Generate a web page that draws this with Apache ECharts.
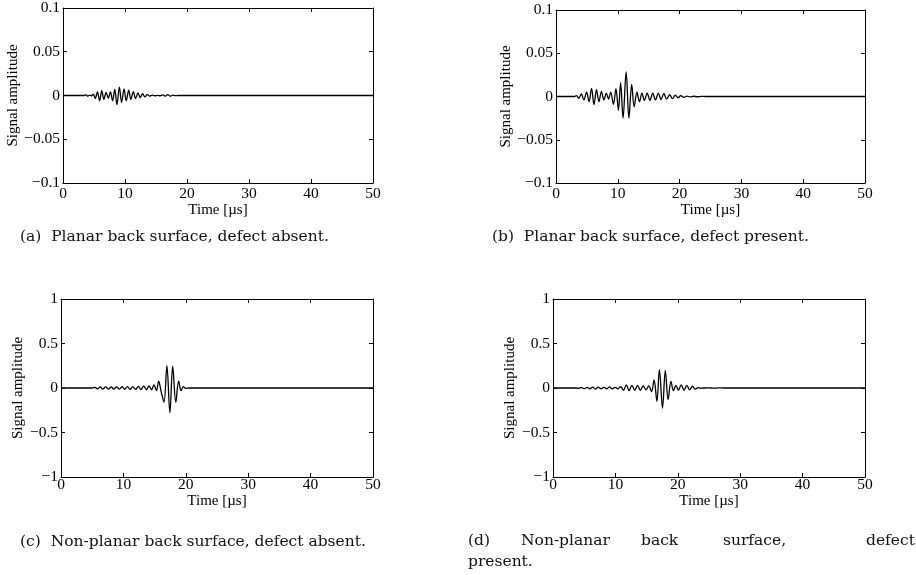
<!DOCTYPE html>
<html>
<head>
<meta charset="utf-8">
<script src="https://cdn.jsdelivr.net/npm/echarts@6/dist/echarts.min.js"></script>
<style>
  html, body { margin: 0; padding: 0; background: #fff; }
  #chart { width: 916px; height: 575px; }
</style>
</head>
<body>
<div id="chart"></div>
<script>
// time axis ticks (µs)
var timeTicks = [0, 10, 20, 30, 40, 50]
var ampTicksSmall = [-0.1, -0.05, 0, 0.05, 0.1]
var ampTicksLarge = [-1, -0.5, 0, 0.5, 1]

// signals as [time µs, amplitude] at peaks / troughs
var signalA = [
  [0, 0], [3.4, 0], [3.7, 0.0008], [4.0, -0.0008], [4.3, 0.0005], [4.6, -0.0003],
  [4.9, 0.0015], [5.2, -0.0035], [5.55, 0.004], [5.9, -0.006], [6.25, 0.0055],
  [6.6, -0.0045], [6.95, 0.0035], [7.3, -0.003], [7.65, 0.004], [8.0, -0.006],
  [8.35, 0.007], [8.7, -0.0105], [9.1, 0.0095], [9.45, -0.008], [9.85, 0.0075],
  [10.2, -0.006], [10.6, 0.006], [10.95, -0.0045], [11.35, 0.0045], [11.7, -0.0035],
  [12.1, 0.003], [12.45, -0.0025], [12.85, 0.002], [13.2, -0.0015], [13.6, 0.001],
  [14.0, -0.0008], [14.4, 0.0005], [14.8, -0.0003], [15.3, 0.0002], [15.7, -0.0003],
  [16.1, 0.0008], [16.5, -0.0008], [16.9, 0.001], [17.3, -0.0008], [17.7, 0.0004],
  [18.1, -0.0002], [18.6, 0], [50, 0]
]
var signalB = [
  [0, 0], [3.0, 0], [3.3, 0.001], [3.7, -0.002], [4.1, 0.003], [4.5, -0.004],
  [4.95, 0.005], [5.35, -0.006], [5.75, 0.0095], [6.15, -0.0095], [6.55, 0.008],
  [6.95, -0.006], [7.35, 0.006], [7.75, -0.004], [8.15, 0.004], [8.5, -0.003],
  [8.85, 0.005], [9.3, -0.009], [9.7, 0.009], [10.1, -0.016], [10.45, 0.016],
  [10.85, -0.025], [11.35, 0.0285], [11.8, -0.025], [12.25, 0.014], [12.65, -0.012],
  [13.1, 0.005], [13.5, -0.006], [13.9, 0.004], [14.3, -0.0045], [14.75, 0.004],
  [15.2, -0.0045], [15.65, 0.004], [16.1, -0.004], [16.55, 0.004], [17.0, -0.0035],
  [17.45, 0.0035], [17.9, -0.003], [18.4, 0.002], [18.85, -0.0025], [19.3, 0.0015],
  [19.75, -0.0015], [20.2, 0.001], [20.7, -0.001], [21.2, 0.0005], [21.7, -0.0005],
  [22.3, 0.0003], [22.9, -0.0003], [23.5, 0.0002], [24.2, 0], [50, 0]
]
var signalC = [
  [0, 0], [5.0, 0], [5.4, 0.008], [5.85, -0.01], [6.3, 0.012], [6.7, -0.012],
  [7.15, 0.012], [7.6, -0.012], [8.05, 0.012], [8.45, -0.012], [8.9, 0.012],
  [9.35, -0.012], [9.8, 0.014], [10.2, -0.014], [10.65, 0.015], [11.1, -0.015],
  [11.5, 0.016], [11.95, -0.016], [12.4, 0.018], [12.8, -0.018], [13.25, 0.02],
  [13.7, -0.02], [14.1, 0.025], [14.5, -0.02], [14.9, 0.035], [15.3, -0.03],
  [15.65, 0.077], [16.05, -0.04], [16.5, -0.16], [16.97, 0.25], [17.45, -0.28],
  [17.9, 0.245], [18.4, -0.16], [18.85, 0.077], [19.25, -0.03], [19.6, 0.015],
  [20.0, -0.005], [20.5, 0], [50, 0]
]
var signalD = [
  [0, 0], [3.7, 0], [4.1, -0.004], [4.55, 0.006], [5.0, -0.008], [5.45, 0.008],
  [5.9, -0.01], [6.35, 0.01], [6.8, -0.012], [7.25, 0.01], [7.7, -0.008],
  [8.15, 0.008], [8.6, -0.01], [9.05, 0.012], [9.5, -0.01], [9.95, 0.008],
  [10.4, -0.01], [10.85, 0.015], [11.3, -0.025], [11.75, 0.035], [12.2, -0.03],
  [12.65, 0.03], [13.1, -0.025], [13.55, 0.03], [14.0, -0.025], [14.45, 0.025],
  [14.9, -0.02], [15.35, 0.025], [15.8, -0.04], [16.2, 0.09], [16.65, -0.15],
  [17.05, 0.205], [17.55, -0.225], [18.0, 0.198], [18.45, -0.13], [18.9, 0.075],
  [19.3, -0.03], [19.7, 0.03], [20.1, -0.025], [20.55, 0.035], [21.0, -0.025],
  [21.45, 0.03], [21.9, -0.02], [22.35, 0.02], [22.8, -0.012], [23.3, 0.005],
  [23.7, -0.003], [24.2, 0], [25.0, 0.002], [25.8, -0.002], [26.6, 0.001],
  [27.4, 0], [50, 0]
]

var captions = [
  '(a)  Planar back surface, defect absent.',
  '(b)  Planar back surface, defect present.',
  '(c)  Non-planar back surface, defect absent.'
]
var captionDWords = ['(d)', 'Non-planar', 'back', 'surface,', 'defect']
var captionDLine2 = 'present.'

var serif = '"Liberation Serif", "DejaVu Serif", serif'
var black = '#000'

function minusSign(v) {
  return String(v).replace('-', '\u2212')
}

var panels = [
  { grid: { left: 63, top: 5, width: 310, height: 178 }, data: signalA, ticks: ampTicksSmall, lm: 3, ng: 15, yg: 37 },
  { grid: { left: 556, top: 10, width: 309, height: 173 }, data: signalB, ticks: ampTicksSmall, lm: 3, ng: 15, yg: 38 },
  { grid: { left: 61, top: 299, width: 312, height: 178 }, data: signalC, ticks: ampTicksLarge, lm: 0, ng: 7, yg: 31 },
  { grid: { left: 553, top: 299, width: 312, height: 178 }, data: signalD, ticks: ampTicksLarge, lm: 0, ng: 7, yg: 32 }
]

var grids = []
var xAxes = []
var yAxes = []
var series = []

panels.forEach(function(p, i) {
  grids.push(Object.assign({ containLabel: false }, p.grid))
  var yMin = p.ticks[0]
  var yMax = p.ticks[p.ticks.length - 1]
  var yInt = p.ticks[1] - p.ticks[0]
  var line = { show: true, onZero: false, lineStyle: { color: black, width: 1 } }
  var tick = { show: true, inside: true, length: 4, lineStyle: { color: black, width: 1 } }
  // bottom / top time axes
  xAxes.push({
    type: 'value', gridIndex: i, position: 'bottom',
    min: timeTicks[0], max: timeTicks[timeTicks.length - 1], interval: timeTicks[1] - timeTicks[0],
    name: 'Time [\u00b5s]', nameLocation: 'middle', nameGap: p.ng,
    nameTextStyle: { color: black, fontFamily: serif, fontSize: 15, verticalAlign: 'top' },
    axisLine: line, axisTick: tick, splitLine: { show: false },
    axisLabel: { color: black, fontFamily: serif, fontSize: 15.5, margin: p.lm, verticalAlign: 'top' }
  })
  xAxes.push({
    type: 'value', gridIndex: i, position: 'top',
    min: timeTicks[0], max: timeTicks[timeTicks.length - 1], interval: timeTicks[1] - timeTicks[0],
    axisLine: line, axisTick: tick, axisLabel: { show: false }, splitLine: { show: false }
  })
  // left / right amplitude axes
  yAxes.push({
    type: 'value', gridIndex: i, position: 'left',
    min: yMin, max: yMax, interval: yInt,
    name: 'Signal amplitude', nameLocation: 'middle', nameGap: p.yg,
    nameTextStyle: { color: black, fontFamily: serif, fontSize: 15 },
    axisLine: line, axisTick: tick, splitLine: { show: false },
    axisLabel: { color: black, fontFamily: serif, fontSize: 15.5, margin: 3, formatter: minusSign }
  })
  yAxes.push({
    type: 'value', gridIndex: i, position: 'right',
    min: yMin, max: yMax, interval: yInt,
    axisLine: line, axisTick: tick, axisLabel: { show: false }, splitLine: { show: false }
  })
  series.push({
    type: 'line', xAxisIndex: i * 2, yAxisIndex: i * 2,
    data: p.data, showSymbol: false, smooth: 0.35, animation: false,
    lineStyle: { color: black, width: 1.3 }
  })
})

var capFont = '15.5px "DejaVu Serif", serif'
var graphics = [
  { type: 'text', left: 20, top: 229, style: { text: captions[0], font: capFont, fill: '#111' } },
  { type: 'text', left: 492, top: 229, style: { text: captions[1], font: capFont, fill: '#111' } },
  { type: 'text', left: 20, top: 534, style: { text: captions[2], font: capFont, fill: '#111' } },
  { type: 'text', left: 468, top: 554, style: { text: captionDLine2, font: capFont, fill: '#111' } }
]
var dLefts = [468, 521, 641, 723, 866]
captionDWords.forEach(function(w, k) {
  graphics.push({ type: 'text', left: dLefts[k], top: 533, style: { text: w, font: capFont, fill: '#111' } })
})

var chart = echarts.init(document.getElementById('chart'))
chart.setOption({
  animation: false,
  backgroundColor: '#fff',
  grid: grids,
  xAxis: xAxes,
  yAxis: yAxes,
  series: series,
  graphic: graphics
})
</script>
</body>
</html>
